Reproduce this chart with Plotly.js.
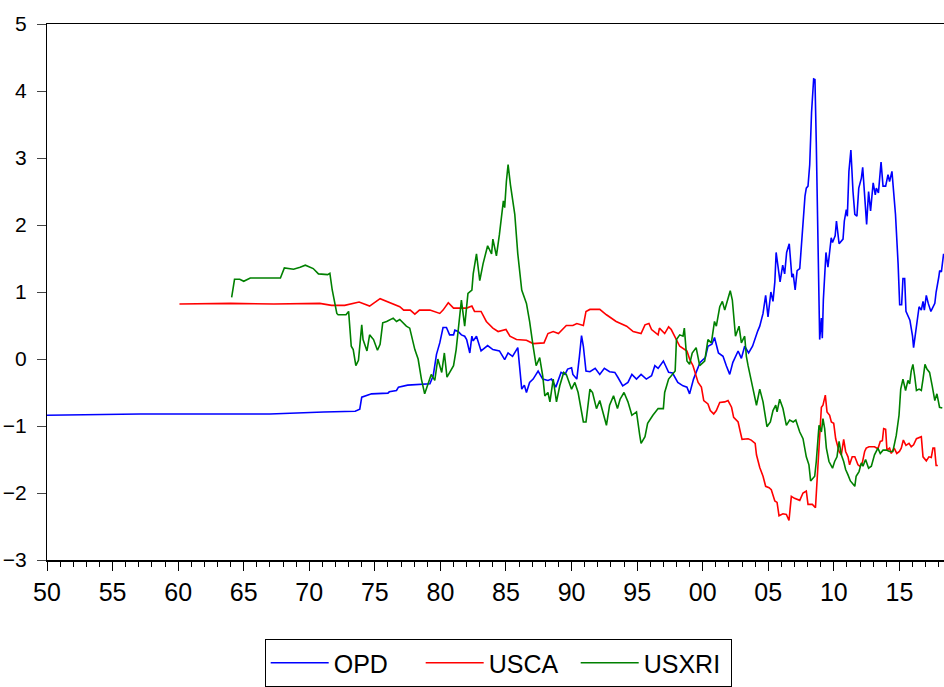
<!DOCTYPE html>
<html>
<head>
<meta charset="utf-8">
<script src="https://cdn.plot.ly/plotly-3.0.1.min.js"></script>
<style>html,body{margin:0;padding:0;background:#fff;}#chart{width:944px;height:687px;}</style>
</head>
<body>
<div id="chart"></div>
<script>
// ---- Data (decimal years) ----
var opdYears = [1950.0,1953.3,1957.1,1967.0,1969.3,1971.1,1973.5,1973.85,1974.0,1974.75,1976.0,1976.1,1976.65,1976.8,1977.5,1979.2,1979.45,1979.7,1979.95,1980.2,1980.46,1980.7,1981.0,1981.1,1981.35,1981.6,1981.85,1982.0,1982.24,1982.4,1982.5,1982.75,1983.1,1983.6,1984.0,1984.5,1984.9,1985.16,1985.5,1985.9,1986.2,1986.4,1986.56,1986.8,1987.07,1987.45,1987.8,1988.2,1988.47,1988.8,1989.2,1989.5,1989.7,1990.0,1990.1,1990.4,1990.6,1990.76,1990.9,1991.1,1991.4,1991.8,1992.15,1992.5,1992.9,1993.3,1993.55,1993.9,1994.3,1994.6,1994.95,1995.3,1995.7,1996.1,1996.35,1996.6,1997.0,1997.4,1997.7,1998.1,1998.5,1998.8,1999.0,1999.3,1999.5,1999.8,2000.2,2000.4,2000.7,2000.9,2001.2,2001.55,2001.8,2002.06,2002.3,2002.7,2002.95,2003.2,2003.5,2003.8,2004.2,2004.35,2004.6,2004.8,2004.98,2005.2,2005.36,2005.5,2005.6,2005.9,2006.1,2006.25,2006.4,2006.6,2006.8,2006.9,2007.05,2007.2,2007.4,2007.6,2007.8,2007.9,2008.03,2008.16,2008.3,2008.46,2008.56,2008.66,2008.8,2008.92,2009.05,2009.12,2009.2,2009.4,2009.55,2009.8,2009.9,2010.1,2010.2,2010.4,2010.7,2010.8,2010.95,2011.03,2011.15,2011.3,2011.46,2011.6,2011.76,2011.9,2012.1,2012.2,2012.5,2012.65,2012.8,2013.0,2013.16,2013.24,2013.4,2013.6,2013.75,2013.95,2014.13,2014.25,2014.43,2014.56,2014.7,2014.9,2015.02,2015.17,2015.27,2015.4,2015.5,2015.8,2016.0,2016.08,2016.3,2016.5,2016.67,2016.8,2016.9,2017.05,2017.2,2017.4,2017.7,2017.8,2018.0,2018.07,2018.2,2018.37];
var opdValues = [-0.84,-0.83,-0.82,-0.82,-0.80,-0.79,-0.78,-0.75,-0.57,-0.52,-0.51,-0.49,-0.47,-0.42,-0.39,-0.37,-0.25,0.07,0.24,0.47,0.47,0.36,0.36,0.43,0.41,0.36,0.34,0.29,0.09,0.34,0.27,0.34,0.12,0.20,0.14,0.12,-0.01,0.09,0.04,0.17,-0.45,-0.39,-0.50,-0.35,-0.30,-0.18,-0.30,-0.32,-0.30,-0.42,-0.20,-0.23,-0.15,-0.13,-0.23,-0.30,0.04,0.35,0.19,-0.18,-0.19,-0.14,-0.23,-0.14,-0.19,-0.20,-0.28,-0.40,-0.35,-0.23,-0.30,-0.23,-0.30,-0.25,-0.10,-0.14,-0.03,-0.20,-0.21,-0.35,-0.40,-0.42,-0.52,-0.30,-0.20,-0.05,0.02,0.19,0.22,0.32,0.09,0.04,-0.10,-0.23,-0.05,0.12,0.01,0.19,0.09,0.19,0.42,0.49,0.68,0.95,0.63,1.00,0.86,1.15,1.59,1.15,1.40,1.27,1.59,1.72,1.22,1.27,1.03,1.32,1.35,1.91,2.43,2.55,2.58,2.90,3.68,4.18,4.17,3.24,1.42,0.29,0.61,0.31,0.88,1.59,1.37,1.81,1.74,1.84,2.06,1.72,1.79,2.06,2.23,2.13,2.80,3.12,2.50,2.16,2.13,2.55,2.70,2.86,2.01,2.50,2.21,2.63,2.45,2.55,2.48,2.94,2.58,2.58,2.75,2.65,2.80,2.53,2.16,1.42,0.81,0.81,1.20,1.20,0.71,0.58,0.34,0.17,0.49,0.78,0.73,0.86,0.73,0.95,0.83,0.71,0.83,1.00,1.22,1.32,1.30,1.57];

var uscaYears = [1960.1,1964.0,1967.3,1970.8,1971.7,1972.7,1973.8,1974.6,1975.4,1975.9,1976.9,1977.2,1977.7,1978.05,1978.4,1979.2,1979.95,1980.2,1980.6,1981.0,1982.0,1982.4,1982.6,1983.1,1983.5,1984.0,1984.4,1985.0,1985.3,1985.8,1986.56,1987.07,1987.9,1988.2,1988.6,1989.0,1989.6,1990.1,1990.4,1990.9,1991.1,1991.4,1992.15,1992.66,1993.4,1994.2,1994.7,1995.3,1995.6,1995.9,1996.1,1996.6,1996.7,1997.1,1997.4,1997.6,1997.9,1998.25,1998.8,1999.0,1999.26,1999.4,1999.65,1999.9,2000.08,2000.4,2000.58,2000.84,2001.04,2001.3,2001.68,2001.93,2002.2,2002.36,2002.7,2002.87,2003.0,2003.46,2003.7,2004.0,2004.1,2004.35,2004.6,2004.8,2005.06,2005.23,2005.5,2005.67,2005.82,2006.12,2006.38,2006.58,2006.76,2007.0,2007.4,2007.65,2007.9,2008.03,2008.36,2008.6,2008.72,2008.92,2009.05,2009.17,2009.35,2009.48,2009.68,2009.81,2009.99,2010.14,2010.4,2010.57,2010.75,2010.9,2011.08,2011.2,2011.4,2011.6,2011.7,2011.84,2011.97,2012.17,2012.35,2012.47,2012.68,2013.1,2013.36,2013.54,2013.7,2013.8,2013.95,2014.05,2014.25,2014.38,2014.6,2014.8,2015.0,2015.14,2015.3,2015.5,2015.73,2015.9,2016.08,2016.3,2016.67,2016.8,2017.05,2017.25,2017.43,2017.56,2017.68,2017.8,2017.93];
var uscaValues = [0.82,0.83,0.82,0.83,0.80,0.80,0.85,0.79,0.90,0.86,0.78,0.73,0.73,0.67,0.73,0.73,0.68,0.73,0.84,0.76,0.76,0.79,0.71,0.71,0.56,0.46,0.41,0.44,0.34,0.29,0.28,0.23,0.24,0.38,0.41,0.38,0.50,0.50,0.53,0.50,0.71,0.74,0.74,0.66,0.56,0.49,0.41,0.38,0.51,0.53,0.44,0.36,0.46,0.38,0.48,0.44,0.32,0.19,0.12,0.00,-0.10,-0.20,-0.35,-0.42,-0.62,-0.67,-0.77,-0.82,-0.77,-0.65,-0.64,-0.62,-0.72,-0.87,-0.94,-1.09,-1.20,-1.19,-1.21,-1.26,-1.43,-1.62,-1.75,-1.90,-1.92,-1.95,-2.12,-2.14,-2.34,-2.31,-2.32,-2.41,-2.05,-2.08,-2.11,-2.00,-1.97,-2.17,-2.17,-2.22,-1.82,-1.23,-0.72,-0.69,-0.54,-0.79,-0.84,-0.94,-0.96,-1.19,-1.38,-1.43,-1.20,-1.38,-1.46,-1.58,-1.46,-1.46,-1.50,-1.58,-1.60,-1.55,-1.38,-1.33,-1.31,-1.31,-1.34,-1.23,-1.22,-1.04,-1.05,-1.36,-1.33,-1.41,-1.33,-1.41,-1.38,-1.33,-1.21,-1.29,-1.26,-1.31,-1.28,-1.19,-1.16,-1.46,-1.52,-1.46,-1.47,-1.33,-1.33,-1.59,-1.59];

var usxriYears = [1964.08,1964.3,1964.7,1965.0,1965.5,1966.3,1967.0,1967.8,1968.1,1968.8,1969.3,1969.7,1970.3,1970.7,1971.4,1971.57,1971.75,1972.1,1972.2,1972.8,1973.0,1973.2,1973.35,1973.55,1973.75,1974.0,1974.1,1974.4,1974.6,1974.9,1975.2,1975.4,1975.6,1975.9,1976.4,1976.65,1976.9,1977.4,1977.66,1978.05,1978.3,1978.55,1978.8,1979.06,1979.3,1979.57,1979.8,1980.1,1980.3,1980.5,1980.7,1981.0,1981.2,1981.5,1981.6,1981.85,1982.1,1982.4,1982.5,1982.75,1983.0,1983.25,1983.6,1983.9,1984.0,1984.27,1984.5,1984.8,1984.9,1985.03,1985.16,1985.34,1985.67,1985.9,1986.2,1986.56,1986.8,1987.07,1987.3,1987.57,1987.8,1987.96,1988.2,1988.35,1988.6,1988.85,1989.1,1989.4,1989.6,1990.0,1990.25,1990.5,1990.9,1991.1,1991.4,1991.6,1991.9,1992.15,1992.4,1992.66,1992.9,1993.2,1993.5,1993.7,1994.0,1994.3,1994.6,1994.95,1995.2,1995.3,1995.6,1995.8,1996.2,1996.6,1997.0,1997.1,1997.4,1997.6,1997.9,1998.0,1998.25,1998.5,1998.6,1998.8,1999.0,1999.2,1999.5,1999.77,2000.15,2000.4,2000.66,2000.9,2001.04,2001.3,2001.5,2001.68,2001.9,2002.1,2002.26,2002.5,2002.77,2002.95,2003.2,2003.33,2003.46,2003.6,2003.84,2004.1,2004.35,2004.6,2004.9,2005.16,2005.36,2005.57,2005.67,2005.87,2006.12,2006.38,2006.63,2006.9,2007.1,2007.4,2007.65,2007.9,2008.1,2008.23,2008.54,2008.66,2008.87,2009.05,2009.17,2009.3,2009.43,2009.63,2009.9,2010.06,2010.24,2010.4,2010.57,2010.75,2010.9,2011.08,2011.26,2011.6,2011.7,2011.92,2012.1,2012.22,2012.42,2012.65,2012.86,2013.1,2013.36,2013.54,2013.75,2014.0,2014.25,2014.5,2014.76,2014.97,2015.1,2015.27,2015.47,2015.65,2015.78,2015.9,2016.03,2016.16,2016.3,2016.5,2016.67,2016.8,2016.95,2017.1,2017.3,2017.5,2017.7,2017.86,2018.06,2018.27];
var usxriValues = [0.92,1.19,1.19,1.16,1.21,1.21,1.22,1.21,1.36,1.34,1.37,1.40,1.35,1.27,1.26,1.28,1.03,0.68,0.66,0.66,0.71,0.19,0.14,-0.10,-0.02,0.51,0.29,0.12,0.36,0.29,0.13,0.22,0.54,0.56,0.61,0.56,0.59,0.49,0.46,0.14,0.00,-0.30,-0.52,-0.35,-0.23,-0.32,0.00,-0.20,0.09,-0.27,-0.20,-0.10,0.14,0.73,0.88,0.49,0.98,1.03,1.27,1.57,1.17,1.42,1.69,1.57,1.79,1.54,1.86,2.36,2.26,2.65,2.90,2.60,2.16,1.57,1.03,0.83,0.56,0.19,-0.10,0.02,-0.25,-0.55,-0.50,-0.64,-0.30,-0.64,-0.40,-0.20,-0.23,-0.45,-0.35,-0.50,-0.94,-0.94,-0.45,-0.50,-0.74,-0.62,-0.79,-0.99,-0.69,-0.55,-0.74,-0.60,-0.50,-0.64,-0.84,-0.79,-1.14,-1.26,-1.16,-0.96,-0.84,-0.74,-0.74,-0.50,-0.30,-0.25,-0.18,0.29,0.36,0.34,0.46,-0.03,-0.08,0.09,0.17,-0.10,-0.03,0.29,0.24,0.56,0.49,0.78,0.86,0.73,0.90,1.02,0.88,0.34,0.49,0.24,0.34,0.04,-0.10,-0.25,-0.45,-0.69,-0.45,-0.64,-1.01,-0.94,-0.77,-0.69,-0.79,-0.60,-0.74,-0.99,-0.91,-0.94,-0.91,-1.09,-1.19,-1.46,-1.58,-1.82,-1.75,-1.53,-0.99,-1.09,-0.89,-1.04,-1.33,-1.53,-1.63,-1.53,-1.46,-1.23,-1.43,-1.53,-1.65,-1.73,-1.82,-1.90,-1.75,-1.68,-1.55,-1.60,-1.50,-1.63,-1.60,-1.43,-1.33,-1.41,-1.36,-1.36,-1.38,-1.38,-1.14,-0.84,-0.45,-0.30,-0.47,-0.32,-0.37,-0.18,-0.08,-0.25,-0.47,-0.45,-0.47,-0.30,-0.08,-0.15,-0.20,-0.40,-0.62,-0.52,-0.72,-0.73];

var xTickVals = [1950,1955,1960,1965,1970,1975,1980,1985,1990,1995,2000,2005,2010,2015];
var xTickText = ['50','55','60','65','70','75','80','85','90','95','00','05','10','15'];
var yTickVals = [-3,-2,-1,0,1,2,3,4,5];
var seriesNames = ['OPD','USCA','USXRI'];
var seriesColors = ['#0000FF','#FF0000','#008000'];

var traces = [
  {x: opdYears, y: opdValues, name: seriesNames[0]},
  {x: uscaYears, y: uscaValues, name: seriesNames[1]},
  {x: usxriYears, y: usxriValues, name: seriesNames[2]}
].map(function(t, i){
  t.type = 'scatter'; t.mode = 'lines';
  t.line = {color: seriesColors[i], width: 1.6};
  t.hoverinfo = 'skip';
  return t;
});

var sans = '"Liberation Sans", Arial, sans-serif';
var layout = {
  width: 944, height: 687,
  margin: {l: 47, r: 0, t: 24, b: 120, pad: 0},
  paper_bgcolor: '#ffffff', plot_bgcolor: '#ffffff',
  showlegend: true,
  xaxis: {
    range: [1950, 2018.4],
    tickmode: 'array', tickvals: xTickVals, ticktext: xTickText,
    ticks: 'outside', ticklen: 9, tickwidth: 1, tickcolor: '#000',
    minor: {tickmode: 'linear', tick0: 1950, dtick: 1, ticks: 'outside', ticklen: 5, tickwidth: 1, tickcolor: '#000', showgrid: false},
    showgrid: false, zeroline: false,
    showline: true, linecolor: '#000', linewidth: 1.5, mirror: true,
    tickfont: {family: sans, size: 25, color: '#000'}
  },
  yaxis: {
    range: [-3, 5],
    tickmode: 'array', tickvals: yTickVals,
    ticks: 'outside', ticklen: 9, tickwidth: 1, tickcolor: '#444',
    showgrid: false, zeroline: false,
    showline: true, linecolor: '#000', linewidth: 1,
    ticklabelstandoff: 6,
    tickfont: {family: sans, size: 21, color: '#000'}
  },
  legend: {
    orientation: 'h', x: 0.503, xanchor: 'center', y: -0.148, yanchor: 'top',
    bordercolor: '#000', borderwidth: 1, bgcolor: '#fff',
    font: {family: sans, size: 25, color: '#000'},
    itemwidth: 58, entrywidth: 82, entrywidthmode: 'pixels', traceorder: 'normal'
  }
};

Plotly.newPlot('chart', traces, layout, {displayModeBar: false, staticPlot: true});
</script>
</body>
</html>
